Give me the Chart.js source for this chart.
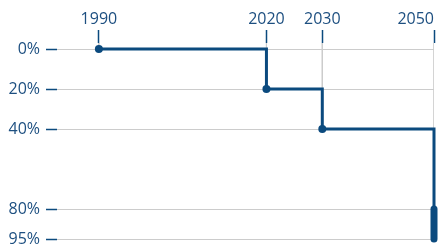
<!DOCTYPE html>
<html>
<head>
<meta charset="utf-8">
<script src="https://cdn.jsdelivr.net/npm/chart.js@4"></script>
<style>
html, body { margin: 0; padding: 0; background: #fff; }
#wrap { width: 438px; height: 249px; }
</style>
</head>
<body>
<div id="wrap"><canvas id="chart"></canvas></div>
<script>
// targets: reduction vs 1990, steps at milestone years
const years = [1990, 2020, 2030, 2050];
const targets = [0, 20, 40, 80];
const rangeYear = 2050;
const rangeValues = [80, 95];
const yTicks = [0, 20, 40, 80, 95];
const xTicks = [1990, 2020, 2030, 2050];

const blue = '#0b4a7e';
const textBlue = '#1d4f80';
const grey = '#cccccc';
const yTop = -3;

const dropLines = years.map((yr, i) => ({
    data: [{ x: yr, y: yTop }, { x: yr, y: targets[i] }],
    borderColor: grey,
    borderWidth: 1,
    pointRadius: 0,
    order: 10
}));

function noPadding(scale) {
    scale.paddingLeft = 0;
    scale.paddingRight = 0;
    scale.paddingTop = 0;
    scale.paddingBottom = 0;
}

new Chart(document.getElementById('chart'), {
    type: 'line',
    data: {
        datasets: [
            ...dropLines,
            {
                data: years.map((yr, i) => ({ x: yr, y: targets[i] })),
                borderColor: blue,
                backgroundColor: blue,
                borderWidth: 3,
                stepped: true,
                pointRadius: [4, 4, 4, 0],
                pointBorderWidth: 0,
                clip: false,
                order: 1
            },
            {
                data: rangeValues.map(v => ({ x: rangeYear, y: v })),
                borderColor: blue,
                borderWidth: 7,
                borderCapStyle: 'round',
                pointRadius: 0,
                clip: false,
                order: 0
            }
        ]
    },
    options: {
        responsive: true,
        maintainAspectRatio: false,
        animation: false,
        layout: { padding: { left: 0, right: 0, top: 0, bottom: 10 } },
        plugins: { legend: { display: false }, tooltip: { enabled: false } },
        scales: {
            x: {
                type: 'linear',
                position: 'top',
                min: 1982.5,
                max: 2050,
                border: { display: false },
                grid: {
                    drawOnChartArea: false,
                    tickLength: 13,
                    tickWidth: 1.5,
                    tickColor: ctx => (ctx.tick && xTicks.includes(ctx.tick.value)) ? blue : 'transparent'
                },
                afterBuildTicks: scale => {
                    scale.ticks = [{ value: scale.min }].concat(xTicks.map(v => ({ value: v })));
                },
                afterFit: scale => { scale.height = 43; noPadding(scale); },
                ticks: {
                    align: 'inner',
                    padding: 1,
                    color: textBlue,
                    font: { family: 'Open Sans', size: 16 },
                    callback: v => xTicks.includes(v) ? String(v) : ''
                }
            },
            y: {
                type: 'linear',
                reverse: true,
                min: yTop,
                max: 95,
                border: { display: false },
                grid: {
                    color: grey,
                    tickLength: 11,
                    tickWidth: 1.5,
                    tickColor: blue
                },
                afterBuildTicks: scale => {
                    scale.ticks = yTicks.map(v => ({ value: v }));
                },
                afterFit: scale => { scale.width = 57; noPadding(scale); },
                ticks: {
                    padding: 6,
                    color: textBlue,
                    font: { family: 'Open Sans', size: 16 },
                    callback: v => v + '%'
                }
            }
        }
    }
});
</script>
</body>
</html>
